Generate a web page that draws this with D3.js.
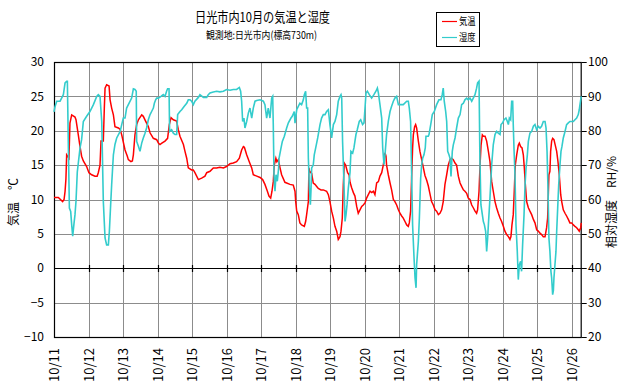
<!DOCTYPE html>
<html>
<head>
<meta charset="utf-8">
<script src="https://cdn.jsdelivr.net/npm/d3@7"></script>
<style>
  body { margin: 0; background: #fff; }
  text { font-family: "Noto Sans CJK JP", "Liberation Sans", sans-serif; fill: #000; }
</style>
</head>
<body>
<div id="chart"></div>
<script>
// 横軸: 10/11 0時からの経過時間(h)
const dayLabels = ['10/11','10/12','10/13','10/14','10/15','10/16','10/17','10/18',
                   '10/19','10/20','10/21','10/22','10/23','10/24','10/25','10/26'];
const tempTicks = [-10, -5, 0, 5, 10, 15, 20, 25, 30];
const humTicks = [20, 30, 40, 50, 60, 70, 80, 90, 100];

// 気温 [経過時間, ℃]
const tempData = [
  [0,10.3],[3,10.3],[6,9.7],[7,10.0],[7.7,11.2],[8.3,13],[8.8,16.5],[10.4,16.0],[11.1,21.1],[12.3,22.3],
  [14.6,22.0],[15.3,21.6],[16.9,19.4],[18.1,17.7],[19.2,16.3],[20.4,15.6],[22.7,14.8],[24.3,13.9],[26.2,13.6],
  [28.5,13.4],[30,13.4],[30.8,13.9],[32,15],[32.7,18.5],[34.3,18.5],[35,23.3],[35.5,26.2],[36.6,26.7],[38.3,26.5],
  [39,24.5],[40.1,23.3],[41.3,22.3],[42.4,20.6],[44.8,20.4],[46,20.2],[47.1,19.4],[49.4,17.2],[51,16.3],[51.7,15.8],
  [53.5,15.5],[54.5,15.6],[55.2,16.5],[56.3,19.4],[57.5,20.9],[58.7,21.6],[61,22.3],[62.1,22.1],[63.7,21.4],
  [65.6,20.6],[66.8,19.7],[69.1,18.9],[71.4,18.7],[72.6,18.2],[73.7,18.0],[75,18.2],[77.2,18.5],[79,18.9],
  [80.2,20.9],[81.4,21.9],[83,21.6],[85.3,21.4],[86.4,20.2],[87.6,19.2],[90,18],[91.1,17],[92.3,16],[93.4,14.6],
  [95.7,14.3],[96.9,14.3],[98,13.9],[100.4,12.9],[101.5,13.0],[102.7,13.1],[105,13.4],[106.2,13.9],[108.5,14.1],
  [110.8,14.6],[113.1,14.6],[115.4,14.7],[117.8,14.6],[120,14.8],[122.4,15.2],[124.7,15.3],[127,15.5],[128.9,16],
  [130.5,17.2],[131.7,17.7],[132.4,17.6],[134,16.5],[135.8,15.5],[137.5,14.6],[138.6,13.6],[141,13.4],[143.3,13.2],
  [145.1,12.9],[146.7,12.2],[148.4,11.2],[149.5,10.5],[150.7,10.2],[151.6,11.2],[152.5,12.6],[153.2,15],[154.3,16],
  [155,15.5],[156,15.8],[157.2,14.6],[158.3,13.6],[160.6,12.5],[161.8,12.4],[164.1,12.2],[166.4,12.1],[167.6,11.2],
  [168.1,9.7],[168.8,8.3],[169.9,7.8],[171,6.6],[172.2,6.3],[174.1,6.1],[175,6.8],[175.7,7.8],[176.9,9.7],
  [177.3,14.6],[177.8,14.1],[179.2,13.8],[180.3,12.4],[181.5,12.2],[182.7,11.9],[183.8,11.6],[185.7,11.4],
  [187.3,11.4],[189.6,11.2],[190.8,10.7],[191.9,9.7],[193.1,8.3],[194.3,7.3],[195.4,6.1],[196.6,5.4],[197.7,4.2],
  [198.9,4.6],[199.6,5.4],[200.5,7.3],[201.2,12.1],[201.9,15.3],[202.8,15],[204.2,13.9],[205.2,13.6],[205.9,12.5],
  [207,11.7],[208.2,11.0],[209.3,10.5],[210.5,9.0],[211.6,8.0],[212.8,8.5],[214,9.0],[215.1,9.2],[216.3,9.5],
  [217.4,10.2],[218.6,10.7],[219.8,11.2],[221,11.0],[222.1,11.2],[223.2,10.7],[224.4,12.4],[225.6,12.6],
  [226.7,13.4],[227.9,13.9],[229,15],[229.7,16],[230.2,16.8],[230.9,16.3],[231.3,15],[232.5,13.6],[233.7,12.4],
  [234.8,11.4],[236,10],[237.1,9.7],[238.3,9.2],[239.5,8.5],[240.6,8],[241.8,7.6],[242.9,7.3],[244.1,6.8],
  [245.3,6.3],[246.4,6.1],[247.1,6.6],[248.0,8.3],[248.7,13.1],[249.4,17.5],[249.9,19.4],[250.8,20.6],[251.5,20.9],
  [252.2,20.4],[253.4,18.5],[254.5,17],[255.7,15.8],[256.9,14.6],[258,13.5],[259.2,12.8],[260.3,12.0],[261.4,10.9],
  [262.6,9.7],[263.8,9.2],[265,8.5],[266.1,8.3],[267.3,7.8],[268.4,8],[269.6,8.5],[270.7,9.7],[271.9,12.2],
  [273.1,13.6],[274.2,15],[275.4,15.8],[276.5,16],[277.7,15.8],[278.9,15.3],[280,15],[281.2,13.4],[282.4,12.4],
  [283.5,11.9],[284.7,11.4],[285.8,11.2],[287,10.9],[288.1,10.2],[289.3,10],[290.5,9.2],[291.6,8.8],[292.8,8.3],
  [293.9,8],[294.6,8.5],[295.6,11.2],[296.3,15],[297,17.9],[297.9,19.4],[298.6,19.2],[299.8,19.2],[300.9,18.5],
  [302.1,17],[303.2,15.5],[304.4,12.6],[305.5,11.2],[306.7,9.7],[307.8,8.8],[309,8],[310.2,7.3],[311.3,6.8],
  [312.5,6.1],[313.6,5.4],[314.8,4.9],[316,4.6],[317.1,4.2],[317.8,4.6],[318.5,6.3],[319.4,7.8],[320.1,11.2],
  [320.8,15],[321.8,16.5],[322.9,17.9],[323.6,18.2],[324.5,17.7],[325.5,17.5],[326.4,16.5],[327.1,14.6],
  [327.8,12.2],[328.7,9.7],[329.9,8.8],[331,8.3],[332.2,7.8],[333.4,7.1],[334.5,6.6],[335.7,5.6],[336.8,5.4],
  [338,5.1],[339.1,4.9],[340.3,4.6],[341.5,4.6],[342.6,5.9],[343.3,7.3],[344.2,13.6],[344.9,14.1],[345.4,17],
  [346.1,18.5],[346.8,18.9],[347.7,18.7],[348.6,17.9],[349.6,17],[350.5,15.5],[351.4,13.6],[352.4,10.7],
  [353.1,9.7],[354.2,8.5],[355.4,8],[356.5,7.6],[357.7,7.1],[358.8,6.6],[360,6.6],[361.2,6.3],[362.3,6.1],
  [363.5,5.9],[364.6,5.6],[365.3,5.4],[366.3,5.9],[366.7,6.6]
];

// 湿度 [経過時間, %]
const humData = [
  [0,85.5],[0.7,87],[1.9,88.6],[4.2,88.6],[5.3,89.5],[6.5,90.5],[7.7,93.9],[8.8,94.4],[9.3,94.4],[10.0,75],
  [10.7,57.5],[11.6,56.5],[12.3,52.7],[13,49.3],[13.9,53],[14.6,55.6],[15.3,59.5],[16.2,68],[18.1,75],[19.2,77.4],
  [20.4,82.7],[22.7,84.2],[25,85.6],[27.4,87.6],[29.7,90],[30.8,90.5],[32,90],[33.2,82.7],[34.3,59.5],[35.5,48.8],
  [36.6,46.8],[37.8,46.8],[38.5,50.7],[39.4,58.5],[40.1,64.3],[41.3,73],[42.4,76],[43.6,77.9],[46,79.8],[47.1,81.8],
  [48.2,83.7],[49.4,83.7],[50.5,86.6],[51.7,87.6],[54,89.5],[55.2,92.2],[56.3,92],[57.2,91.5],[57.5,76.9],
  [58.7,75.5],[59.8,74],[61,76.4],[62.1,77.9],[63.3,79.3],[64.4,80.8],[65.6,83.2],[66.8,84.7],[67.9,85.6],
  [69.1,86.6],[69.8,88],[70.7,89],[71.4,89.5],[72.6,89.5],[74.4,90],[76,90.5],[77.2,90],[78.3,91.5],[79,92.2],
  [80,92.2],[80.4,79.8],[81.8,80.3],[83,79.3],[84.2,78.9],[85.3,78.9],[86,84.7],[87.6,85.6],[88.8,86.1],
  [90.6,87.1],[92.3,88],[93.4,89],[94.6,89],[95.7,88.6],[96.9,87.6],[98,88.6],[100.4,89.7],[101.5,90.5],
  [103.9,89.7],[106.2,89.7],[107.3,90.5],[108.5,91],[110.8,91.3],[113.1,91.5],[115.4,91.3],[117.8,91.5],[120,92],
  [122.4,91.8],[124.7,92],[127,92],[128.9,92.6],[129.8,91.5],[130.5,88.6],[131.2,82.7],[132.1,83.7],[132.8,80.8],
  [134,82.7],[135.2,85.2],[136.3,86.6],[137.5,83.7],[138.6,86.6],[139.8,88.6],[141,88.8],[143.3,89],[145.6,88.6],
  [146.7,87.6],[147.9,83.7],[149,86.6],[150.2,83.7],[151.4,89.5],[152.1,90],[152.5,81.8],[153,67.2],[153.7,62.4],
  [154.4,67.2],[155.3,65.3],[156.2,69],[156.5,72],[157.9,75],[158.8,76.9],[160.2,78.4],[161.8,80.8],[163,82.3],
  [164.8,83.7],[165.7,84.2],[167.1,85.6],[167.6,82.2],[168.8,86.1],[169.9,87.1],[171,88],[172.2,87.6],[173.4,89],
  [174.1,90.5],[175,91.5],[175.7,86.6],[176.4,86.6],[176.9,72],[177.6,63.3],[178.3,58.5],[178.7,62.4],[179.2,69.2],
  [180.3,70],[181,73],[182,75],[183.4,77.9],[185,81.8],[186.1,83.7],[187.3,84.7],[188.5,84.7],[189.6,85.6],
  [190.8,86.1],[191.9,81.8],[193.1,77.9],[194.3,81.8],[195.4,82.7],[196.6,84.7],[197.7,88.6],[198.9,90],
  [199.6,90.5],[200.1,89.5],[200.7,76.9],[201.7,64.3],[202.4,53.6],[203.1,55.6],[203.8,58.5],[204.7,63.3],
  [205.9,68],[206.5,74],[207.7,73.5],[208.6,75],[210,78.9],[210.9,80.3],[212.3,82.7],[213.3,83.2],[214.6,81.8],
  [215.6,82.3],[216.3,86.6],[217,91],[217.9,91.5],[219.3,90.5],[220.9,89.5],[222.5,90.5],[223.9,91.5],[224.9,92.4],
  [225.6,91],[226.7,87.6],[227.9,83.7],[228.6,75],[229.5,70.1],[230.2,73],[231.3,78.9],[232.5,82.7],[233.7,85.6],
  [234.8,87.1],[236,88.6],[237.1,89.5],[238.3,90],[239.5,87.6],[240.6,87.6],[242.9,87.6],[245.3,88.6],[246.4,88.6],
  [247.1,86.6],[248,82.7],[248.7,68.2],[249.4,52.6],[250.4,43],[251.1,37.2],[251.8,34.3],[252.2,41],[253.4,47.8],
  [254.1,54.6],[255,66.2],[255.7,70.1],[256.4,72],[257.3,73],[258.2,75],[258.7,78.4],[260.3,78.4],[260.8,78.9],
  [262.2,82.3],[263.1,84.7],[264.5,85.6],[266.1,87.6],[267.7,89],[269.1,89],[270,90.5],[270.7,92.4],[271.4,88.6],
  [272.4,85.6],[273.1,82.7],[273.8,74],[274.7,73],[275.4,72],[276.1,66.7],[277,74],[277.7,75.9],[278.9,77.9],
  [280,80.8],[281.2,83.7],[282.4,84.7],[283.5,87.6],[284.7,88],[285.8,89],[287,89.5],[288.1,89],[289.3,89.5],
  [290.5,88.6],[291.6,89.5],[292.8,90.5],[293.9,92.4],[294.6,93.9],[295.6,94.4],[295.8,86.6],[296.2,72],
  [296.9,58.5],[297.9,55.6],[298.6,53.6],[299.3,52.7],[300.2,50.7],[300.9,44.9],[301.6,48.8],[302.1,52.7],
  [303.2,60.4],[304.4,70.1],[305.5,75.9],[306.7,78.9],[307.8,79.8],[309,79.3],[310.2,78.9],[310.9,81.8],[312,82.3],
  [313,83.2],[314.3,83.7],[315.3,82.7],[316,81.8],[316.7,83.7],[317.6,83.2],[318.3,88.6],[319,88.6],[319.4,81.8],
  [319.9,75],[320.6,67.2],[321.3,52.6],[322.2,44.9],[322.9,36.7],[323.6,41],[324.5,42],[325.2,39.1],[325.9,46.8],
  [326.9,55.6],[327.6,64.3],[328.3,69.2],[329.2,73],[329.9,76.9],[331,79.3],[332.2,79.8],[333.4,81.3],[334.5,81.8],
  [335.7,80.3],[336.8,81.3],[338,80.8],[339.1,81.3],[340.3,82.7],[341.5,82.7],[342.2,80.8],[342.9,74],[343.6,62.4],
  [344.2,48.8],[344.9,44.9],[345.6,39.1],[346.1,37.2],[346.8,32.3],[347.3,33.5],[347.7,37.2],[348.4,41],
  [349.1,44.9],[349.6,50.7],[350.3,57.5],[351,64.3],[351.9,70.1],[352.6,74],[353.3,75.5],[354.2,77.9],[355.4,79.8],
  [356.5,81.8],[357.7,82.3],[358.8,82.7],[361.2,82.7],[362.3,83.2],[363.5,83.7],[364.6,84.7],[365.3,86.1],
  [365.8,87.6],[366.3,89],[366.7,90]
];

const W = 626, H = 388;
const plot = { left: 54, right: 581.7, top: 62, bottom: 337 };
const endHour = 367;

const svg = d3.select('#chart').append('svg')
    .attr('width', W)
    .attr('height', H);

const x = d3.scaleLinear().domain([0, endHour]).range([plot.left, plot.right]);
const yT = d3.scaleLinear().domain([-10, 30]).range([plot.bottom, plot.top]);
const yH = d3.scaleLinear().domain([20, 100]).range([plot.bottom, plot.top]);
const dayHours = dayLabels.map((d, i) => i * 24);

// グリッド
const grid = svg.append('g').attr('stroke', '#8c8c8c').attr('stroke-width', 1);
grid.selectAll('line.h').data(tempTicks).enter().append('line')
    .attr('x1', plot.left).attr('x2', plot.right)
    .attr('y1', d => Math.round(yT(d)) + 0.5).attr('y2', d => Math.round(yT(d)) + 0.5);
grid.selectAll('line.v').data(dayHours.slice(1)).enter().append('line')
    .attr('x1', d => Math.round(x(d)) + 0.5).attr('x2', d => Math.round(x(d)) + 0.5)
    .attr('y1', plot.top).attr('y2', plot.bottom);

// 0℃ ライン
const zy = Math.round(yT(0)) + 0.5;
svg.append('line')
    .attr('x1', plot.left).attr('x2', plot.right)
    .attr('y1', zy).attr('y2', zy)
    .attr('stroke', '#000').attr('stroke-width', 1.2);
svg.selectAll('line.zt').data(dayHours.slice(1)).enter().append('line')
    .attr('x1', d => Math.round(x(d)) + 0.5).attr('x2', d => Math.round(x(d)) + 0.5)
    .attr('y1', zy - 3.5).attr('y2', zy + 3.5)
    .attr('stroke', '#000').attr('stroke-width', 1.2);

// 枠
svg.append('rect')
    .attr('x', plot.left + 0.5).attr('y', plot.top + 0.5)
    .attr('width', plot.right - plot.left - 1).attr('height', plot.bottom - plot.top)
    .attr('fill', 'none').attr('stroke', '#000').attr('stroke-width', 1.2);

// 右軸の目盛
svg.selectAll('line.rt').data(humTicks).enter().append('line')
    .attr('x1', plot.right).attr('x2', plot.right + 5)
    .attr('y1', d => Math.round(yH(d)) + 0.5).attr('y2', d => Math.round(yH(d)) + 0.5)
    .attr('stroke', '#000');

// データ線
const lineT = d3.line().x(d => x(d[0])).y(d => yT(d[1]));
const lineH = d3.line().x(d => x(d[0])).y(d => yH(d[1]));

svg.append('path').datum(tempData)
    .attr('d', lineT).attr('fill', 'none')
    .attr('stroke', '#ff0000').attr('stroke-width', 1.5).attr('stroke-linejoin', 'miter');
svg.append('path').datum(humData)
    .attr('d', lineH).attr('fill', 'none')
    .attr('stroke', '#33cccc').attr('stroke-width', 1.6).attr('stroke-linejoin', 'miter');

// 軸ラベル
svg.selectAll('text.lt').data(tempTicks).enter().append('text')
    .attr('x', 44).attr('y', d => yT(d)).attr('dy', '0.35em')
    .attr('text-anchor', 'end').style('font-size', '12px')
    .text(d => d < 0 ? '\u2212' + Math.abs(d) : d);

svg.selectAll('text.rt').data(humTicks).enter().append('text')
    .attr('x', 588).attr('y', d => yH(d)).attr('dy', '0.35em')
    .attr('text-anchor', 'start').style('font-size', '12px')
    .text(d => d);

svg.selectAll('text.xt').data(dayLabels).enter().append('text')
    .attr('transform', (d, i) => `translate(${x(i * 24) + 0.5},348) rotate(-90)`)
    .attr('dy', '0.35em')
    .attr('text-anchor', 'end').style('font-size', '13px')
    .text(d => d);

svg.append('text')
    .attr('transform', 'translate(14,202) rotate(-90)')
    .attr('dy', '0.35em').attr('text-anchor', 'middle')
    .style('font-size', '12px')
    .text('気温　℃');

svg.append('text')
    .attr('transform', 'translate(612,202) rotate(-90)')
    .attr('dy', '0.35em').attr('text-anchor', 'middle')
    .style('font-size', '12px')
    .text('相対湿度　RH/%');

// タイトル
svg.append('text')
    .attr('x', 262.5).attr('y', 22)
    .attr('text-anchor', 'middle').style('font-size', '13.5px')
    .attr('textLength', 135).attr('lengthAdjust', 'spacingAndGlyphs')
    .text('日光市内10月の気温と湿度');
svg.append('text')
    .attr('x', 261.5).attr('y', 38.5)
    .attr('text-anchor', 'middle').style('font-size', '10.5px')
    .attr('textLength', 111).attr('lengthAdjust', 'spacingAndGlyphs')
    .text('観測地:日光市内(標高730m)');

// 凡例
const legend = svg.append('g');
legend.append('rect')
    .attr('x', 436.5).attr('y', 12.5).attr('width', 43).attr('height', 34)
    .attr('fill', '#fff').attr('stroke', '#000');
const legendItems = [['気温', '#ff0000'], ['湿度', '#33cccc']];
legendItems.forEach(([name, color], i) => {
    const ly = 21.5 + i * 16;
    legend.append('line')
        .attr('x1', 442).attr('x2', 457)
        .attr('y1', ly).attr('y2', ly)
        .attr('stroke', color).attr('stroke-width', 1.2);
    legend.append('text')
        .attr('x', 459).attr('y', ly).attr('dy', '0.35em')
        .style('font-size', '10px')
        .attr('textLength', 16.5).attr('lengthAdjust', 'spacingAndGlyphs')
        .text(name);
});
</script>
</body>
</html>
